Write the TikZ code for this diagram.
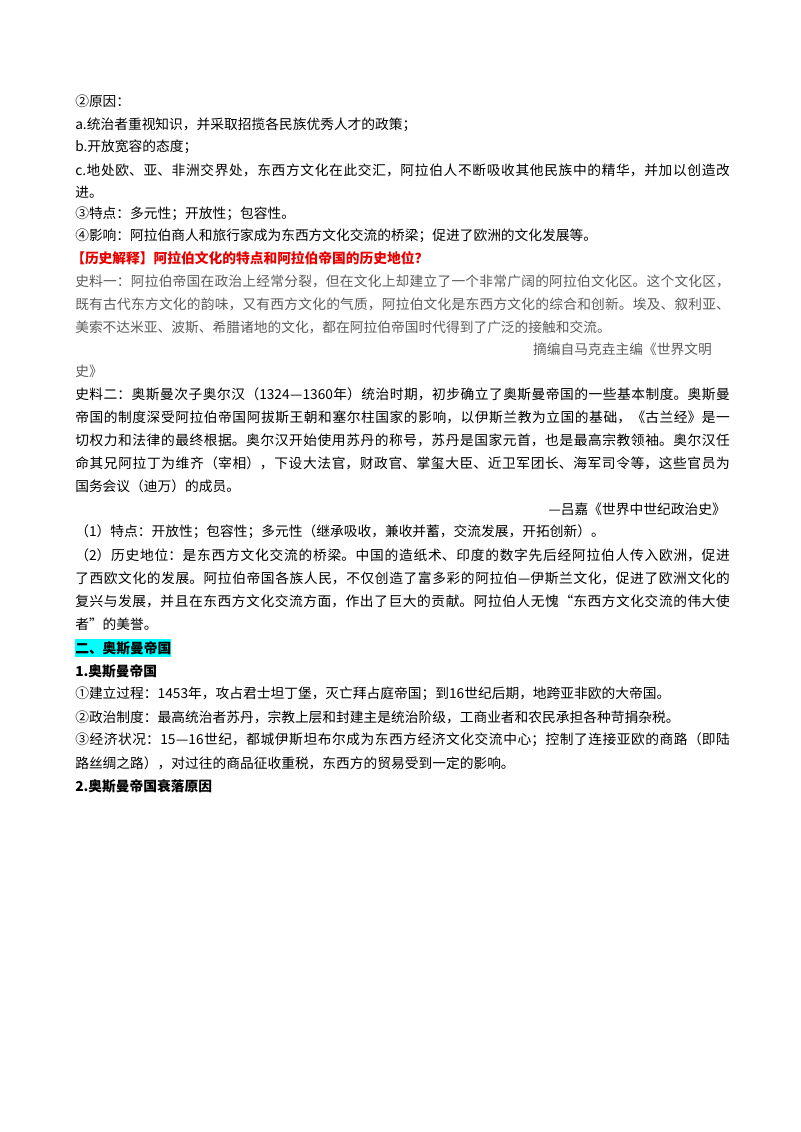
\documentclass[tikz,border=0pt]{standalone}
\usepackage{fontspec}
\setmainfont{Noto Sans CJK SC}
\XeTeXlinebreaklocale "zh"
\XeTeXlinebreakskip=0pt plus 1pt minus 0.4pt
\usetikzlibrary{positioning}
\definecolor{histred}{RGB}{230,0,0}
\definecolor{srcgray}{RGB}{90,90,90}
\definecolor{hlcyan}{RGB}{0,255,255}
\tikzset{
    every node/.style={font=\fontsize{10.3pt}{13pt}\selectfont, inner sep=0pt},
    line/.style={anchor=west},
    full/.style={anchor=west, text width=491pt, align=justify,
        execute at begin node={\parfillskip=0pt\emergencystretch=0pt}},
    src/.style={text=srcgray},
    head/.style={font=\fontsize{10.3pt}{13pt}\selectfont\bfseries},
}

\begin{document}
\begin{tikzpicture}[x=0.75pt, y=-0.75pt]
\useasboundingbox (0,0) rectangle (800,1132);
% reasons and features
\node[line] (why) at (75,101) {②原因：};
\node[line] (ra) at (75,125) {a.统治者重视知识，并采取招揽各民族优秀人才的政策；};
\node[line] (rb) at (75,147) {b.开放宽容的态度；};
\node[full] (rc) at (75,170) {c.地处欧、亚、非洲交界处，东西方文化在此交汇，阿拉伯人不断吸收其他民族中的精华，并加以创造改};
\node[line] (rc2) at (75,192) {进。};
\node[line] (feat) at (75,214) {③特点：多元性；开放性；包容性。};
\node[line] (infl) at (75,236) {④影响：阿拉伯商人和旅行家成为东西方文化交流的桥梁；促进了欧洲的文化发展等。};
% history explanation
\node[line, head, text=histred] (expl) at (71,258) {【历史解释】阿拉伯文化的特点和阿拉伯帝国的历史地位？};
\node[full, src] (s1a) at (75,281) {史料一：阿拉伯帝国在政治上经常分裂，但在文化上却建立了一个非常广阔的阿拉伯文化区。这个文化区，};
\node[full, src] (s1b) at (75,304) {既有古代东方文化的韵味，又有西方文化的气质，阿拉伯文化是东西方文化的综合和创新。埃及、叙利亚、};
\node[line, src] (s1c) at (75,327) {美索不达米亚、波斯、希腊诸地的文化，都在阿拉伯帝国时代得到了广泛的接触和交流。};
\node[anchor=east, src] (s1d) at (712,349) {摘编自马克垚主编《世界文明};
\node[line, src] (s1e) at (75,371) {史》};
\node[full] (s2a) at (75,394) {史料二：奥斯曼次子奥尔汉（1324—1360年）统治时期，初步确立了奥斯曼帝国的一些基本制度。奥斯曼};
\node[full] (s2b) at (75,417) {帝国的制度深受阿拉伯帝国阿拔斯王朝和塞尔柱国家的影响，以伊斯兰教为立国的基础，《古兰经》是一};
\node[full] (s2c) at (75,440) {切权力和法律的最终根据。奥尔汉开始使用苏丹的称号，苏丹是国家元首，也是最高宗教领袖。奥尔汉任};
\node[full] (s2d) at (75,463) {命其兄阿拉丁为维齐（宰相），下设大法官，财政官、掌玺大臣、近卫军团长、海军司令等，这些官员为};
\node[line] (s2e) at (75,486) {国务会议（迪万）的成员。};
\node[anchor=east] (s2f) at (726,509) {—吕嘉《世界中世纪政治史》};
\node[line] (ans1) at (75,532) {（1）特点：开放性；包容性；多元性（继承吸收，兼收并蓄，交流发展，开拓创新）。};
\node[full] (ans2a) at (75,555) {（2）历史地位：是东西方文化交流的桥梁。中国的造纸术、印度的数字先后经阿拉伯人传入欧洲，促进};
\node[full] (ans2b) at (75,578) {了西欧文化的发展。阿拉伯帝国各族人民，不仅创造了富多彩的阿拉伯—伊斯兰文化，促进了欧洲文化的};
\node[full] (ans2c) at (75,601) {复兴与发展，并且在东西方文化交流方面，作出了巨大的贡献。阿拉伯人无愧“东西方文化交流的伟大使};
\node[line] (ans2d) at (75,624) {者”的美誉。};
% Ottoman empire
\node[line, head, fill=hlcyan, inner ysep=2pt] (sec2) at (75,648) {二、奥斯曼帝国};
\node[line, head] (ott) at (75,671) {1.奥斯曼帝国};
\node[line] (o1) at (75,694) {①建立过程：1453年，攻占君士坦丁堡，灭亡拜占庭帝国；到16世纪后期，地跨亚非欧的大帝国。};
\node[line] (o2) at (75,717) {②政治制度：最高统治者苏丹，宗教上层和封建主是统治阶级，工商业者和农民承担各种苛捐杂税。};
\node[full] (o3) at (75,740) {③经济状况：15—16世纪，都城伊斯坦布尔成为东西方经济文化交流中心；控制了连接亚欧的商路（即陆};
\node[line] (o3b) at (75,763) {路丝绸之路），对过往的商品征收重税，东西方的贸易受到一定的影响。};
\node[line, head] (decl) at (75,786) {2.奥斯曼帝国衰落原因};
\end{tikzpicture}
\end{document}
